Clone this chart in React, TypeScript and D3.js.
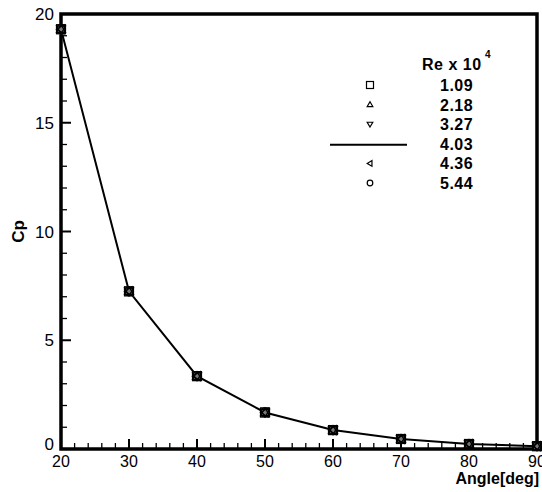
import React from "react";
import * as d3 from "d3";

const width = 542;
const height = 492;
const margin = { top: 14, right: 5, bottom: 43, left: 61 };

// angle of attack (deg) and pressure coefficient
const angles = [20, 30, 40, 50, 60, 70, 80, 90];
const cp = [19.3, 7.25, 3.35, 1.68, 0.87, 0.46, 0.23, 0.13];

// Reynolds numbers (x 10^4) of the series, all curves collapse onto one
const reLabels = ["1.09", "2.18", "3.27", "4.03", "4.36", "5.44"];
const reSymbols = ["square", "triUp", "triDown", "line", "triLeft", "circle"];

const xTicks = [20, 30, 40, 50, 60, 70, 80, 90];
const yTicks = [0, 5, 10, 15, 20];

const font = "Liberation Sans, Arial, sans-serif";

function marker(kind: string, x: number, y: number, r: number, key: string) {
  const common = { fill: "none", stroke: "#000", strokeWidth: 1.2, key };
  if (kind === "square")
    return <rect {...common} x={x - r} y={y - r} width={2 * r} height={2 * r} />;
  if (kind === "circle") return <circle {...common} cx={x} cy={y} r={r} />;
  if (kind === "triUp")
    return <path {...common} d={`M${x},${y - r}L${x + r},${y + r * 0.7}L${x - r},${y + r * 0.7}Z`} />;
  if (kind === "triDown")
    return <path {...common} d={`M${x},${y + r}L${x + r},${y - r * 0.7}L${x - r},${y - r * 0.7}Z`} />;
  if (kind === "triLeft")
    return <path {...common} d={`M${x - r},${y}L${x + r * 0.7},${y - r}L${x + r * 0.7},${y + r}Z`} />;
  return null;
}

export default function App() {
  const x = d3
    .scaleLinear()
    .domain([20, 90])
    .range([margin.left, width - margin.right]);
  const y = d3
    .scaleLinear()
    .domain([0, 20])
    .range([height - margin.bottom, margin.top]);

  const line = d3
    .line<number>()
    .x((d, i) => x(angles[i]))
    .y(d => y(d));

  const xMinor = d3.range(20, 90.1, 2).filter(v => v % 10 !== 0);
  const yMinor = d3.range(0, 20.1, 1).filter(v => v % 5 !== 0);

  const legendX = 370;
  const legendTextX = 440;
  const legendY0 = 85;
  const legendStep = 19.6;

  return (
    <svg width={width} height={height} style={{ position: "absolute", left: 0, top: 0 }}>
      <rect width={width} height={height} fill="#fff" />

      {/* ticks, inward on the left and bottom axes */}
      {xTicks.map(t => (
        <line key={"xt" + t} x1={x(t)} x2={x(t)} y1={y(0)} y2={y(0) - 10} stroke="#000" strokeWidth={2} />
      ))}
      {xMinor.map(t => (
        <line key={"xm" + t} x1={x(t)} x2={x(t)} y1={y(0)} y2={y(0) - 6} stroke="#000" strokeWidth={1.3} />
      ))}
      {yTicks.map(t => (
        <line key={"yt" + t} x1={x(20)} x2={x(20) + 10} y1={y(t)} y2={y(t)} stroke="#000" strokeWidth={2} />
      ))}
      {yMinor.map(t => (
        <line key={"ym" + t} x1={x(20)} x2={x(20) + 6} y1={y(t)} y2={y(t)} stroke="#000" strokeWidth={1.3} />
      ))}

      {/* frame */}
      <rect
        x={x(20)}
        y={y(20)}
        width={x(90) - x(20)}
        height={y(0) - y(20)}
        fill="none"
        stroke="#000"
        strokeWidth={3.5}
      />

      {/* tick labels */}
      {xTicks.map(t => (
        <text key={"xl" + t} x={x(t)} y={y(0) + 18} textAnchor="middle" fontFamily={font} fontSize={16}>
          {t}
        </text>
      ))}
      {yTicks.map(t => (
        <text
          key={"yl" + t}
          x={x(20) - 7}
          y={y(t) + (t === 0 ? 1 : 6)}
          textAnchor="end"
          fontFamily={font}
          fontSize={17}
        >
          {t}
        </text>
      ))}

      {/* axis titles */}
      <text x={width - 3} y={484} textAnchor="end" fontFamily={font} fontSize={16} fontWeight="bold">
        Angle[deg]
      </text>
      <text
        transform={`translate(24,${(y(0) + y(20)) / 2}) rotate(-90)`}
        textAnchor="middle"
        fontFamily={font}
        fontSize={17}
        fontWeight="bold"
      >
        Cp
      </text>

      {/* the curve and the overlapping markers of all series */}
      <path d={line(cp) ?? ""} fill="none" stroke="#000" strokeWidth={2} />
      {cp.map((v, i) => (
        <g key={"m" + i}>
          <rect x={x(angles[i]) - 5} y={y(v) - 5} width={10} height={10} fill="#777" />
          {reSymbols.map((s, j) => marker(s, x(angles[i]), y(v), 4.5, s + j))}
        </g>
      ))}

      {/* legend */}
      <text x={422} y={70} fontFamily={font} fontSize={16} fontWeight="bold" letterSpacing={0.5}>
        Re x 10
      </text>
      <text x={485} y={58} fontFamily={font} fontSize={10} fontWeight="bold">
        4
      </text>
      {reLabels.map((lab, i) => {
        const ly = legendY0 + i * legendStep;
        const s = reSymbols[i];
        return (
          <g key={"lg" + lab}>
            {s === "line" ? (
              <line x1={330} x2={407} y1={ly + 1} y2={ly + 1} stroke="#000" strokeWidth={2} />
            ) : (
              marker(s, legendX, ly, s === "square" ? 3.5 : 2.8, "lm" + i)
            )}
            <text x={legendTextX} y={ly + 6} fontFamily={font} fontSize={16} fontWeight="bold" letterSpacing={0.5}>
              {lab}
            </text>
          </g>
        );
      })}
    </svg>
  );
}
